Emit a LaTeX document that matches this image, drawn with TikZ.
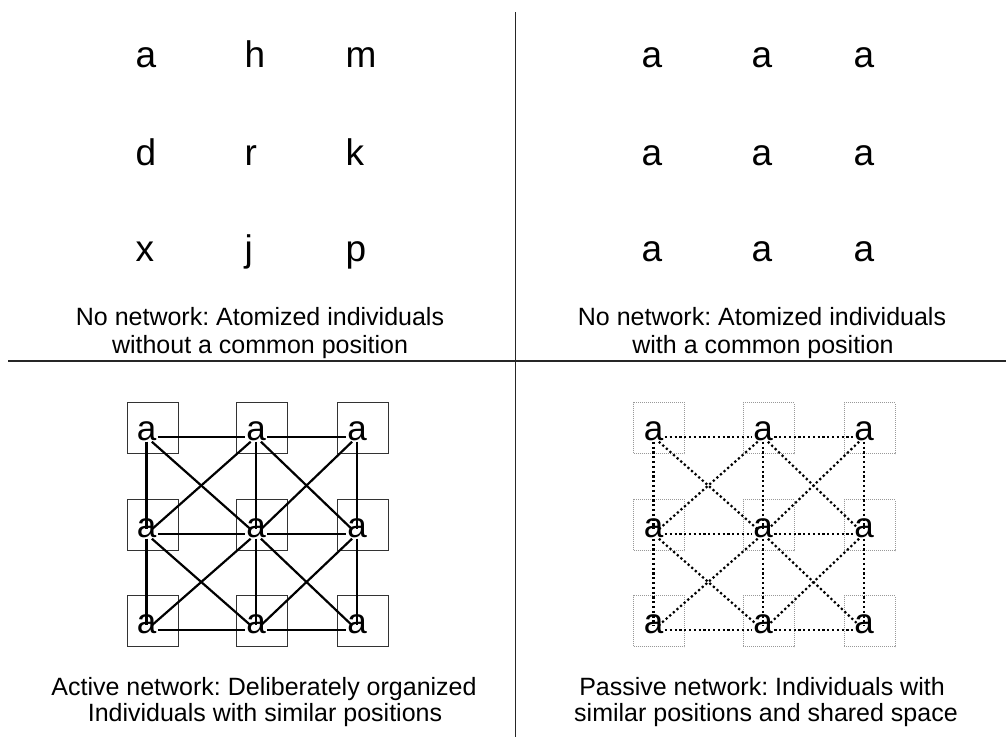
\documentclass[tikz,border=0pt]{standalone}
\usepackage{fontspec}
\setmainfont{Liberation Sans}
\frenchspacing
\begin{document}
\begin{tikzpicture}[x=1pt,y=-1pt,
  big/.style={font=\fontsize{37}{40}\selectfont, inner sep=0pt, anchor=base west},
  captext/.style={font=\fontsize{25}{27}\selectfont, inner sep=0pt, anchor=base},
  ltr/.style={font=\fontsize{35}{38}\selectfont, inner sep=1.5pt, text height=0.6em, text depth=0pt, anchor=base},
  sbox/.style={draw=black!80, line width=0.9pt, minimum size=51pt, inner sep=0pt},
  dbox/.style={draw=black!40, line width=0.8pt, dash pattern=on 1pt off 1pt, minimum size=51pt, inner sep=0pt},
  solidlink/.style={line width=2.2pt},
  dotlink/.style={line width=2.2pt, dash pattern=on 2.2pt off 2.6pt},
  divider/.style={draw=black!85, line width=1pt}
]
\useasboundingbox (0,0) rectangle (1006,737);
% dividers
\coordinate (vt) at (515,12);
\coordinate (vb) at (515,737);
\coordinate (hl) at (8,361);
\coordinate (hr) at (1006,361);
\draw[divider] (vt) -- (vb);
\draw[divider, line width=1.4pt] (hl) -- (hr);
% top-left letters
\foreach \t/\x/\y [count=\i] in {a/135.5/67, h/244.5/67, m/345.5/67, d/135.5/165, r/244.5/165, k/345.5/165, x/135.5/261, j/244.5/261, p/345.5/261}
  \node[big] (tl\i) at (\x,\y) {\t};
% top-right letters
\foreach \x/\y [count=\i] in {641.5/67, 751.5/67, 853.5/67, 641.5/165, 751.5/165, 853.5/165, 641.5/261, 751.5/261, 853.5/261}
  \node[big] (tr\i) at (\x,\y) {a};
% bottom-left grid
\foreach \c/\x in {1/146.5,2/256,3/357}
  \foreach \r/\y in {1/440,2/537,3/633} {
    \node[sbox] (LB\c\r) at (\x+6,\y-12) {};
    \node[ltr] (L\c\r) at (\x,\y) {a};
  }
\foreach \a/\b in {11/21,21/31,12/22,22/32,13/23,23/33,11/12,12/13,21/22,22/23,31/32,32/33,11/22,21/12,21/32,31/22,12/23,22/13,22/33,32/23}
  \draw[solidlink] (L\a) -- (L\b);
% bottom-right grid
\foreach \c/\x in {1/653.5,2/763,3/864}
  \foreach \r/\y in {1/440,2/537,3/633} {
    \node[dbox] (RB\c\r) at (\x+5.5,\y-12) {};
    \node[ltr] (R\c\r) at (\x,\y) {a};
  }
\foreach \a/\b in {11/21,21/31,12/22,22/32,13/23,23/33,11/12,12/13,21/22,22/23,31/32,32/33,11/22,21/12,21/32,31/22,12/23,22/13,22/33,32/23}
  \draw[dotlink] (R\a) -- (R\b);
% captions
\node[captext] (c1a) at (260,325) {No network: Atomized individuals};
\node[captext] (c1b) at (260,353) {without a common position};
\node[captext] (c2a) at (762,325) {No network: Atomized individuals};
\node[captext] (c2b) at (763,353) {with a common position};
\node[captext] (c3a) at (264,695) {Active network: Deliberately organized};
\node[captext] (c3b) at (265,721) {Individuals with similar positions};
\node[captext] (c4a) at (762,695) {Passive network: Individuals with};
\node[captext] (c4b) at (766,721) {similar positions and shared space};
\end{tikzpicture}
\end{document}
